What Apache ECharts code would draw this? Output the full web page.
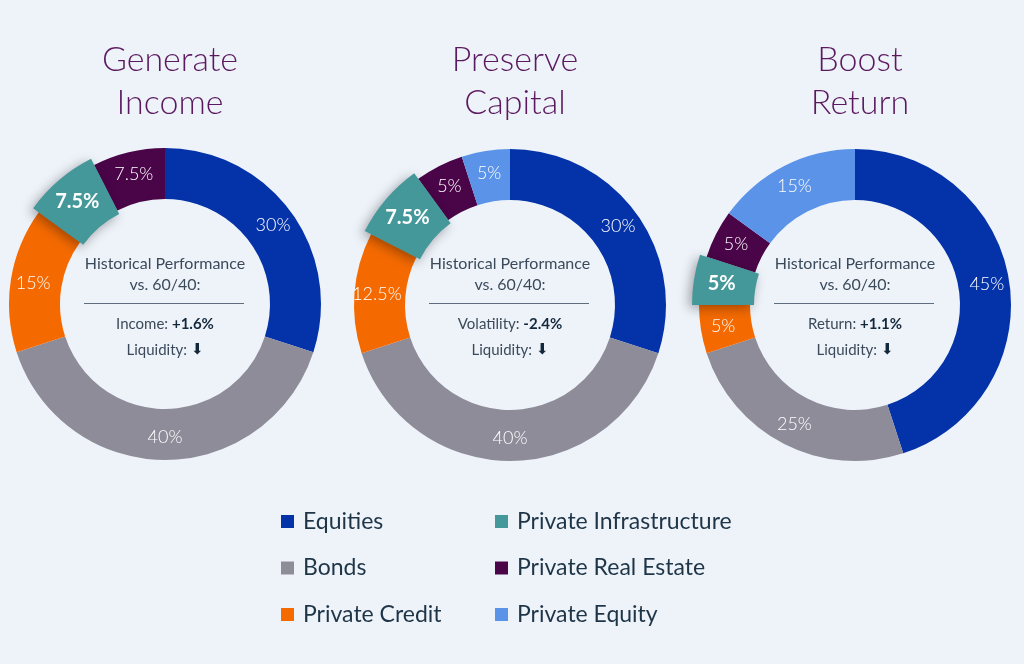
<!DOCTYPE html>
<html>
<head>
<meta charset="utf-8">
<script src="https://cdn.jsdelivr.net/npm/echarts@6/dist/echarts.min.js"></script>
<style>
  html, body { margin: 0; padding: 0; background: #eef3fa; }
  #main { width: 1024px; height: 664px; }
</style>
</head>
<body>
<div id="main"></div>
<script>
// categories and colours
var categories = ['Equities', 'Bonds', 'Private Credit', 'Private Infrastructure', 'Private Real Estate', 'Private Equity'];
var colors = ['#0433a9', '#8e8c99', '#f46a00', '#45989a', '#4a0548', '#5b93e8'];

// portfolio weights (%) per chart, same order as categories
var incomeValues = [30, 40, 15, 7.5, 7.5, 0];
var capitalValues = [30, 40, 12.5, 7.5, 5, 5];
var returnValues = [45, 25, 5, 5, 5, 15];

var titles = ['Generate\nIncome', 'Preserve\nCapital', 'Boost\nReturn'];
var metricNames = ['Income', 'Volatility', 'Return'];
var metricValues = ['+1.6%', '-2.4%', '+1.1%'];
var highlighted = 'Private Infrastructure';

var allValues = [incomeValues, capitalValues, returnValues];
var centers = [[165, 304], [510, 305], [855, 305]];
var font = 'Lato, "Open Sans", sans-serif';

function buildData(values, overlay) {
  var out = [];
  values.forEach(function (v, i) {
    if (!v) return;
    var name = categories[i];
    var isHi = name === highlighted;
    var item = { name: name, value: v, itemStyle: { color: colors[i] } };
    if (overlay) {
      if (isHi) {
        item.itemStyle = {
          color: colors[i],
          shadowBlur: 12, shadowColor: 'rgba(0,0,0,0.35)',
          shadowOffsetX: -3, shadowOffsetY: 3
        };
        item.label = { show: true };
      } else {
        item.itemStyle = { color: 'rgba(0,0,0,0)' };
        item.label = { show: false };
      }
    } else if (isHi) {
      item.label = { show: false };
    }
    out.push(item);
  });
  return out;
}

var series = [];
var graphic = [];
var titleList = [];

allValues.forEach(function (values, k) {
  var c = centers[k];
  series.push({
    type: 'pie',
    center: c,
    radius: [105, 156],
    startAngle: 90,
    avoidLabelOverlap: false,
    label: {
      show: true, position: 'inside', formatter: '{c}%',
      color: '#ffffff', fontSize: 18, fontWeight: 300, fontFamily: font
    },
    labelLine: { show: false },
    data: buildData(values, false)
  });
  // the highlighted slice drawn again, a bit larger and with a shadow
  series.push({
    type: 'pie',
    center: c,
    radius: [101, 163],
    startAngle: 90,
    silent: true,
    z: 3,
    avoidLabelOverlap: false,
    label: {
      show: true, position: 'inside', formatter: '{c}%',
      color: '#ffffff', fontSize: 20, fontWeight: 'bold', fontFamily: font
    },
    labelLine: { show: false },
    data: buildData(values, true)
  });

  titleList.push({
    text: titles[k],
    left: c[0], top: 34,
    textAlign: 'center',
    textStyle: { color: '#5b1a5f', fontSize: 34, fontWeight: 300, fontFamily: font, lineHeight: 43 }
  });

  graphic.push({
    type: 'text', x: c[0], y: 274.5,
    style: {
      text: 'Historical Performance\nvs. 60/40:',
      align: 'center', verticalAlign: 'middle',
      fill: '#3b4a5a', fontSize: 16, lineHeight: 21, fontFamily: font
    }
  });
  graphic.push({
    type: 'line',
    shape: { x1: c[0] - 81, y1: 303.5, x2: c[0] + 79, y2: 303.5 },
    style: { stroke: '#5d6d7d', lineWidth: 1 }
  });
  graphic.push({
    type: 'text', x: c[0], y: 324,
    style: {
      text: '{a|' + metricNames[k] + ': }{b|' + metricValues[k] + '}',
      align: 'center', verticalAlign: 'middle',
      rich: {
        a: { fill: '#3b4a5a', fontSize: 15, fontFamily: font },
        b: { fill: '#14283c', fontSize: 15, fontWeight: 'bold', fontFamily: font }
      }
    }
  });
  graphic.push({
    type: 'text', x: c[0], y: 350,
    style: {
      text: '{a|Liquidity: }{b|\u2b07}',
      align: 'center', verticalAlign: 'middle',
      rich: {
        a: { fill: '#3b4a5a', fontSize: 15, fontFamily: font },
        b: { fill: '#14283c', fontSize: 15, fontFamily: '"DejaVu Sans"' }
      }
    }
  });
});

var legendText = { fontSize: 23, color: '#1e3447', fontFamily: font, lineHeight: 21, padding: [0, 0, 0, 4] };

var option = {
  backgroundColor: '#eef3fa',
  animation: false,
  title: titleList,
  legend: [
    {
      data: categories.slice(0, 3), orient: 'vertical', left: 276, top: 505,
      icon: 'rect', itemWidth: 13, itemHeight: 13, itemGap: 23.5,
      textStyle: legendText, selectedMode: false
    },
    {
      data: categories.slice(3), orient: 'vertical', left: 490, top: 505,
      icon: 'rect', itemWidth: 13, itemHeight: 13, itemGap: 23.5,
      textStyle: legendText, selectedMode: false
    }
  ],
  graphic: graphic,
  series: series
};

var chart = echarts.init(document.getElementById('main'));
chart.setOption(option);
</script>
</body>
</html>
